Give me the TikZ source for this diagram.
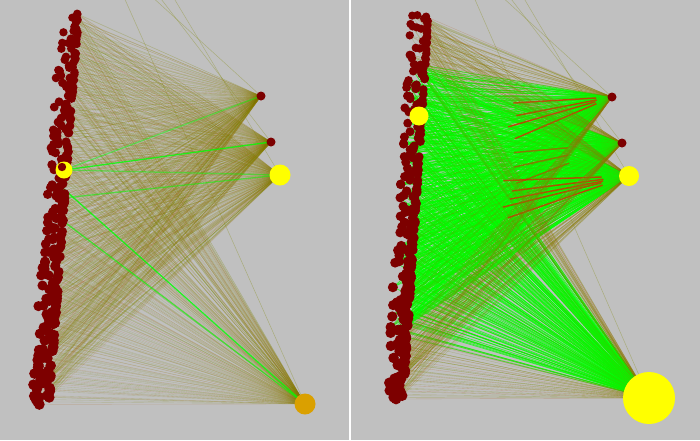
\documentclass[tikz,border=0pt]{standalone}
\usetikzlibrary{calc}
\definecolor{bg}{RGB}{192,192,192}
\definecolor{dotred}{RGB}{125,0,0}
\definecolor{lineolive}{RGB}{128,135,0}
\definecolor{linebrown}{RGB}{175,95,20}
\definecolor{hiliteg}{RGB}{0,255,0}
\definecolor{hubyellow}{RGB}{255,255,0}
\definecolor{huborange}{RGB}{218,160,0}
\definecolor{redseg}{RGB}{255,0,0}
\tikzset{
  edge/.style={line width=0.35pt, draw opacity=0.22},
  gedge/.style={line width=0.75pt, draw=hiliteg, draw opacity=0.7},
  gthick/.style={line width=1.3pt, draw=hiliteg, draw opacity=0.8},
  faint/.style={line width=0.5pt, draw=lineolive, draw opacity=0.35},
  rededge/.style={line width=1.5pt, draw=redseg, draw opacity=0.7},
}
\begin{document}
\begin{tikzpicture}[x=1pt,y=-1pt]
\fill[bg] (0,0) rectangle (700,440);
\fill[white] (349.2,0) rectangle (351,440);
\useasboundingbox (0,0) rectangle (700,440);

% hubs
\coordinate (LA) at (261,96);
\coordinate (LB) at (271,142);
\coordinate (LC) at (280,175);
\coordinate (LD) at (305,404);
\coordinate (RA) at (612,97);
\coordinate (RB) at (622,143);
\coordinate (RC) at (629,176);
\coordinate (RD) at (649,398);
\coordinate (LY) at (64,170);
\coordinate (LYin) at (62,167);
\coordinate (RY) at (419,116);
% far-away (off picture) ends
\coordinate (LT1) at (123,-5);
\coordinate (LT2) at (150,-5);
\coordinate (LT3) at (158,-5);
\coordinate (LT4) at (172,-5);
\coordinate (RT1) at (473,-5);
\coordinate (RT2) at (500,-5);
\coordinate (RT3) at (508,-5);
\coordinate (RT4) at (522,-5);

% member dots (positions)
\pgfmathsetseed{4242}
\foreach \p/\cx/\cs/\yb in {L/75/30/404, R/425/26/398} {
  \foreach \i in {1,...,240} {
    \pgfmathsetmacro\t{(\i-1)/239}
    \pgfmathsetmacro\rr{rnd}
    \pgfmathsetmacro\x{\cx-\cs*\t+4-18*\rr*\rr}
    \pgfmathsetmacro\y{14+\t*(\yb-14)+(rnd-0.5)*4}
    \coordinate (\p\i) at (\x,\y);
  }
}

% faint lines to far nodes
\draw[faint] (LT1) -- (LD);
\draw[faint] (LT2) -- (LA);
\draw[faint] (LT3) -- (LB);
\draw[faint] (LT4) -- (LC);
\draw[faint] (RT1) -- (RD);
\draw[faint] (RT2) -- (RA);
\draw[faint] (RT3) -- (RB);
\draw[faint] (RT4) -- (RC);

% left panel edges
\foreach \i in {1,...,240} {
  \foreach \h [count=\k] in {A,B,C,D} {
    \pgfmathtruncatemacro\c{mod(\i*7+\k*3,4)}
    \ifnum\c=0 \def\lc{linebrown}\else\def\lc{lineolive}\fi
    \draw[edge,draw=\lc] (L\i) -- (L\h);
  }
}
% left highlighted edges
\draw[gthick] (LY) -- (LB);
\draw[gthick,draw opacity=0.45] (LY) -- (LA);
\draw[gthick,draw opacity=0.45] (LY) -- (LC);
\draw[gthick] (L106) -- (LD);
\draw[gthick,draw opacity=0.6] (L128) -- (LD);
\draw[gthick,draw opacity=0.5] (L115) -- (LC);

% right panel: green edges
\foreach \i in {33,...,199} {
  \foreach \h in {A,B,C,D} {
    \draw[gedge] (R\i) -- (R\h);
  }
}
% right panel: red segments near hubs
\foreach \i in {60,75,90,105} {
  \draw[rededge] ($(RA)!0.08!(R\i)$) -- ($(RA)!0.5!(R\i)$);
}
\foreach \i in {108,118,128,138,150} {
  \draw[rededge] ($(RC)!0.12!(R\i)$) -- ($(RC)!0.55!(R\i)$);
}
\foreach \i in {92,112,132} {
  \draw[rededge,draw opacity=0.5] ($(RB)!0.25!(R\i)$) -- ($(RB)!0.5!(R\i)$);
}
% right panel: olive edges
\foreach \i in {1,...,32} {
  \foreach \h [count=\k] in {A,B,C,D} {
    \pgfmathtruncatemacro\c{mod(\i*7+\k*3,4)}
    \ifnum\c=0 \def\lc{linebrown}\else\def\lc{lineolive}\fi
    \draw[edge,draw=\lc,draw opacity=0.3] (R\i) -- (R\h);
  }
}
\foreach \i in {200,...,240} {
  \foreach \h [count=\k] in {A,B,C,D} {
    \pgfmathtruncatemacro\c{mod(\i*7+\k*3,4)}
    \ifnum\c=0 \def\lc{linebrown}\else\def\lc{lineolive}\fi
    \draw[edge,draw=\lc,draw opacity=0.3] (R\i) -- (R\h);
  }
}
\foreach \i in {33,39,...,199} {
  \foreach \h in {A,B,C,D} {
    \draw[edge,draw=lineolive,draw opacity=0.3] (R\i) -- (R\h);
  }
}

% dots
\foreach \p in {L,R} {
  \foreach \i in {1,...,240} {
    \pgfmathsetmacro\r{4.1+1.3*(\i-1)/239}
    \fill[dotred] (\p\i) circle[radius=\r pt];
  }
}

% hubs drawn on top
\fill[dotred] (LA) circle[radius=4.5pt];
\fill[dotred] (LB) circle[radius=4.5pt];
\fill[hubyellow] (LC) circle[radius=10.5pt];
\fill[huborange] (LD) circle[radius=10.5pt];
\fill[hubyellow] (LY) circle[radius=8.5pt];
\fill[dotred] (LYin) circle[radius=4.2pt];
\fill[dotred] (RA) circle[radius=4.5pt];
\fill[dotred] (RB) circle[radius=4.5pt];
\fill[hubyellow] (RC) circle[radius=10pt];
\fill[hubyellow] (RD) circle[radius=26pt];
\fill[hubyellow] (RY) circle[radius=9.5pt];
\end{tikzpicture}
\end{document}
